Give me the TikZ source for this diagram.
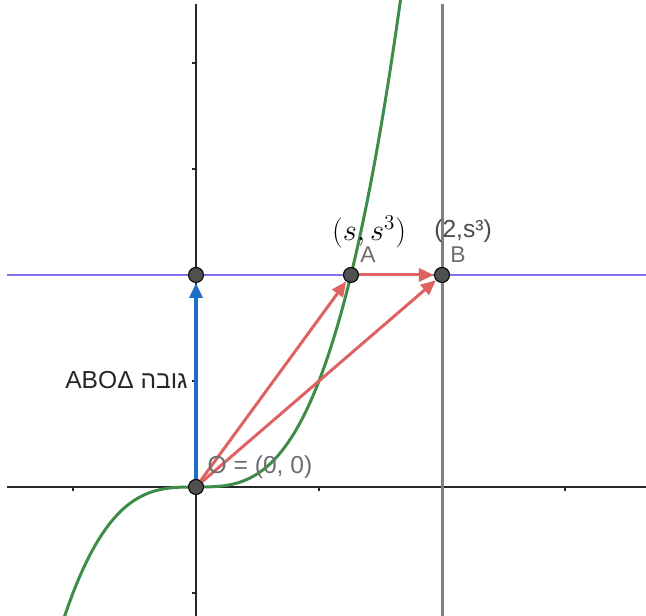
\documentclass[tikz,border=0pt]{standalone}
\usepackage{fontspec}
\usetikzlibrary{arrows.meta}
\newfontfamily\labelfont{Liberation Sans}
\newfontfamily\hebfont[Script=Hebrew]{Liberation Sans}
\TeXXeTstate=1
\definecolor{curvegreen}{RGB}{62,140,72}
\definecolor{vecblue}{RGB}{30,110,200}
\definecolor{vecred}{RGB}{222,98,98}
\definecolor{linepurple}{RGB}{125,115,235}
\definecolor{ptgray}{RGB}{80,80,80}
\definecolor{axisgray}{RGB}{40,40,40}
\definecolor{labelgray}{RGB}{110,110,110}

\begin{document}
\begin{tikzpicture}[x=2.46cm, y=2.12cm,
  pt/.style={circle, fill=ptgray, draw=black, line width=0.6pt, inner sep=0pt, minimum size=0.3cm},
  vec/.style={-{Triangle[length=0.3cm, width=0.26cm]}, line width=1.7pt},
  axisline/.style={axisgray, line width=0.85pt},
  lbl/.style={font=\labelfont\fontsize{14}{16}\selectfont, text=labelgray, inner sep=0pt}]

  \useasboundingbox (-1.5935,-1.217) rectangle (3.6585,4.594);
  \clip (-1.5935,-1.217) rectangle (3.6585,4.594);

  % Axes
  \draw[axisline] (-1.54,0) -- (3.6585,0);
  \draw[axisline] (0,-1.217) -- (0,4.56);
  \foreach \t in {-1,1,3} \draw[axisline] (\t,0) -- ++(0,-0.08cm);
  \foreach \t in {-1,1,3,4} \draw[axisline] (0,\t) -- ++(-0.08cm,0);

  % Lines x = 2 and y = 2
  \draw[gray, line width=1.7pt] (2,-1.217) -- (2,4.56);
  \draw[linepurple, line width=1.2pt] (-1.54,2) -- (3.6585,2);

  % Curve y = x^3
  \draw[curvegreen, line width=1.7pt, domain=-1.08:1.67, samples=120, smooth] plot (\x,{\x^3});

  % Points
  \node[pt] (O) at (0,0) {};
  \node[pt] (H) at (0,2) {};
  \node[pt] (A) at ({2^(1/3)},2) {};
  \node[pt] (B) at (2,2) {};

  % Vectors
  \draw[vec, vecblue, line width=2pt] (O) -- (H);
  \draw[vec, vecred] (O) -- (A);
  \draw[vec, vecred] (O) -- (B);
  \draw[vec, vecred] (A) -- (B);

  % Labels
  \node[font=\fontsize{17}{20}\selectfont, inner sep=0pt] (sLabel) at (1.407,2.405) {$(s,s^3)$};
  \node[lbl, font=\labelfont\fontsize{13}{15}\selectfont] (aLabel) at (1.398,2.19) {A};
  \node[lbl, text=black!70] (bCoord) at (2.171,2.41) {(2,s³)};
  \node[lbl, font=\labelfont\fontsize{13}{15}\selectfont] (bLabel) at (2.130,2.19) {B};
  \node[lbl] (oLabel) at (0.520,0.189) {O = (0, 0)};
  \node[lbl, text=black!85, anchor=east] (hLabel) at (-0.065,1.009) {ABOΔ \hebfont\beginR גובה\endR};

\end{tikzpicture}
\end{document}
